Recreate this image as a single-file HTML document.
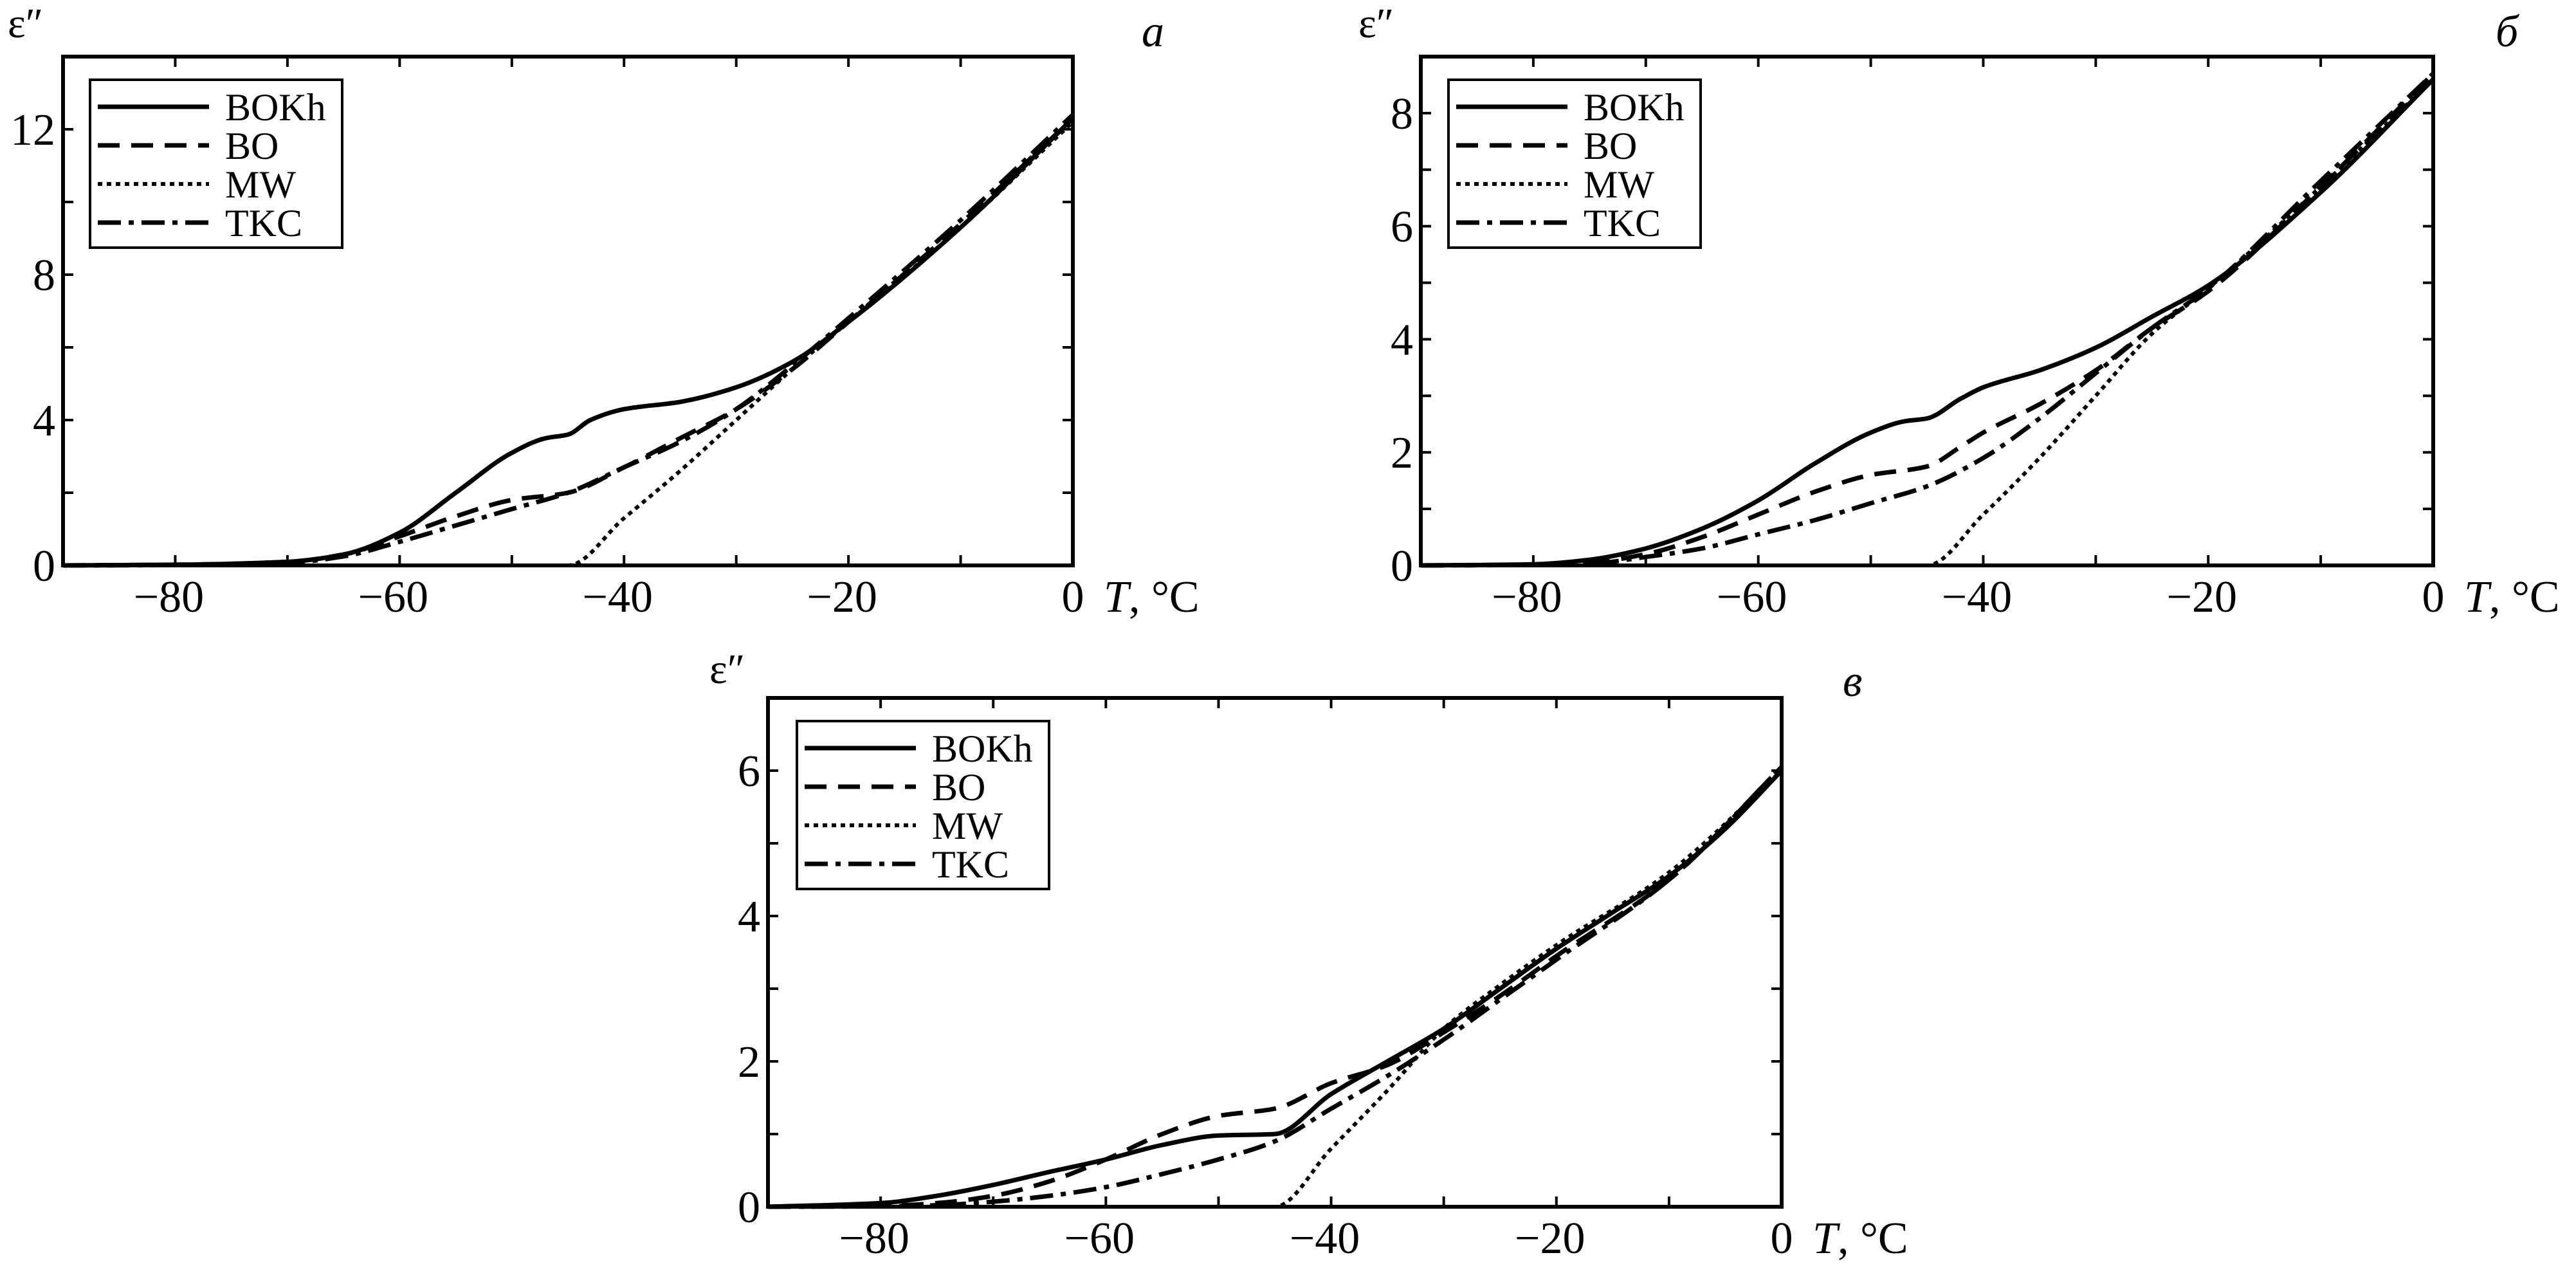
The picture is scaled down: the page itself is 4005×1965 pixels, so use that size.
<!DOCTYPE html>
<html><head><meta charset="utf-8"><style>
html,body{margin:0;padding:0;background:#fff;}
svg{display:block;font-family:"Liberation Serif",serif;}
</style></head><body>
<svg id="fig" width="4005" height="1965" viewBox="0 0 4005 1965" xmlns="http://www.w3.org/2000/svg"></svg>
<script>
// Panel a data
const aT_BOKh=[-90,-80,-70,-65,-60,-55,-50,-47,-45,-43,-40,-35,-30,-25,-20,-10,0];
const aV_BOKh=[0,0.02,0.1,0.3,0.9,2.0,3.1,3.5,3.6,4.0,4.3,4.5,4.9,5.6,6.7,9.3,12.3];
const aT_BO=[-90,-80,-70,-65,-60,-55,-50,-45,-40,-35,-30,-25,-20,-10,0];
const aV_BO=[0,0.02,0.1,0.3,0.8,1.35,1.8,2.0,2.7,3.5,4.3,5.4,6.7,9.4,12.3];
const aT_MW=[-90,-45,-40,-35,-30,-25,-20,-10,0];
const aV_MW=[0,0,1.3,2.6,4.0,5.4,6.7,9.3,12.2];
const aT_TKC=[-90,-80,-70,-65,-60,-55,-50,-45,-40,-35,-30,-25,-20,-10,0];
const aV_TKC=[0,0.01,0.07,0.25,0.65,1.1,1.55,2.0,2.7,3.4,4.3,5.5,6.8,9.5,12.4];
// Panel b data
const bT_BOKh=[-90,-80,-75,-70,-65,-60,-55,-50,-47,-45,-42,-40,-35,-30,-25,-20,-10,0];
const bV_BOKh=[0,0.02,0.1,0.3,0.65,1.15,1.8,2.35,2.55,2.6,2.95,3.15,3.45,3.85,4.4,4.95,6.6,8.6];
const bT_BO=[-90,-80,-75,-70,-65,-60,-55,-50,-45,-42,-40,-35,-30,-25,-20,-10,0];
const bV_BO=[0,0.01,0.05,0.2,0.5,0.9,1.3,1.6,1.75,2.1,2.35,2.85,3.45,4.2,4.85,6.7,8.7];
const bT_MW=[-90,-45,-40,-35,-30,-25,-20,-10,0];
const bV_MW=[0,0,0.9,1.9,3.0,4.1,4.9,6.7,8.6];
const bT_TKC=[-90,-80,-75,-70,-65,-60,-55,-50,-45,-40,-35,-30,-25,-20,-10,0];
const bV_TKC=[0,0.01,0.03,0.15,0.3,0.55,0.8,1.1,1.4,1.9,2.6,3.4,4.2,4.9,6.8,8.7];
// Panel c data
const cT_BOKh=[-90,-80,-75,-70,-65,-60,-55,-50,-45,-40,-35,-30,-25,-20,-15,-10,-5,0];
const cV_BOKh=[0,0.05,0.15,0.3,0.48,0.65,0.85,0.98,1.0,1.55,2.0,2.45,3.0,3.55,4.05,4.55,5.2,6.0];
const cT_BO=[-90,-80,-75,-70,-65,-60,-55,-50,-45,-40,-35,-30,-25,-20,-10,0];
const cV_BO=[0,0.01,0.05,0.15,0.35,0.65,1.0,1.25,1.35,1.7,1.95,2.4,2.9,3.45,4.5,6.05];
const cT_MW=[-90,-45,-40,-35,-30,-25,-20,-10,0];
const cV_MW=[0,0,0.8,1.6,2.45,3.05,3.6,4.6,6.0];
const cT_TKC=[-90,-80,-75,-70,-65,-60,-55,-50,-45,-40,-35,-30,-25,-20,-10,0];
const cV_TKC=[0,0.005,0.02,0.07,0.15,0.27,0.45,0.65,0.9,1.35,1.8,2.3,2.85,3.4,4.5,6.05];
const xTickLabels=[-80,-60,-40,-20,0];
const aYLabels=[0,4,8,12];
const bYLabels=[0,2,4,6,8];
const cYLabels=[0,2,4,6];

const NS="http://www.w3.org/2000/svg";
const svg=document.getElementById('fig');
function mk(tag,attrs,parent){const e=document.createElementNS(NS,tag);for(const k in attrs)e.setAttribute(k,attrs[k]);(parent||svg).appendChild(e);return e;}
const styles={BOKh:"",BO:"34,18",MW:"7,7",TKC:"36,12,8,12"};
// monotone cubic (Fritsch-Carlson) path
function mono(pts){
  const n=pts.length, dx=[], m=[], t=new Array(n);
  for(let i=0;i<n-1;i++){dx[i]=pts[i+1][0]-pts[i][0];m[i]=(pts[i+1][1]-pts[i][1])/dx[i];}
  t[0]=m[0];t[n-1]=m[n-2];
  for(let i=1;i<n-1;i++){
    if(m[i-1]*m[i]<=0)t[i]=0;
    else{const w1=2*dx[i]+dx[i-1],w2=dx[i]+2*dx[i-1];t[i]=(w1+w2)/(w1/m[i-1]+w2/m[i]);}
  }
  let d="M"+pts[0][0].toFixed(1)+","+pts[0][1].toFixed(1);
  for(let i=0;i<n-1;i++){
    const h=dx[i]/3;
    d+=" C"+(pts[i][0]+h).toFixed(1)+","+(pts[i][1]+t[i]*h).toFixed(1)+" "+(pts[i+1][0]-h).toFixed(1)+","+(pts[i+1][1]-t[i+1]*h).toFixed(1)+" "+pts[i+1][0].toFixed(1)+","+pts[i+1][1].toFixed(1);
  }
  return d;
}
function panel(cfg){
  const g=mk('g',{});
  
  
  const L=cfg.L,R=cfg.R,T=cfg.T,B=cfg.B;
  const sx=v=>L+(v+90)/90*(R-L);
  const sy=v=>B-v/cfg.ymax*(B-T);
  cfg.series.forEach(s=>{
    const pts=s.t.map((t,i)=>[sx(t),sy(s.v[i])]);
    const p=mk('path',{d:mono(pts),fill:"none",stroke:"#000","stroke-width":s.name==="MW"?6:7,"stroke-dasharray":styles[s.name]},g);
    
    
  });
  const fr=mk('rect',{x:L,y:T,width:R-L,height:B-T,fill:"none",stroke:"#000","stroke-width":6},g);
  
  
  for(let t=-80;t<=-10;t+=10){
    mk('line',{x1:sx(t),x2:sx(t),y1:B,y2:B-16,stroke:"#000","stroke-width":4},g);
    mk('line',{x1:sx(t),x2:sx(t),y1:T,y2:T+16,stroke:"#000","stroke-width":4},g);
  }
  for(let v=cfg.ystep;v<cfg.ymax;v+=cfg.ystep){
    mk('line',{x1:L,x2:L+16,y1:sy(v),y2:sy(v),stroke:"#000","stroke-width":4},g);
    mk('line',{x1:R,x2:R-16,y1:sy(v),y2:sy(v),stroke:"#000","stroke-width":4},g);
  }
  xTickLabels.forEach(t=>{
    const tx=mk('text',{x:sx(t)-(t<0?10:0),y:B+72,"font-size":70,"text-anchor":"middle"},g);
    tx.textContent=(t<0?"\u2212":"")+Math.abs(t);
    
    
  });
  cfg.ylabels.forEach(v=>{
    const ty=mk('text',{x:L-12,y:sy(v)+24,"font-size":70,"text-anchor":"end"},g);
    ty.textContent=v;
    
    
  });
  const yt=mk('text',{x:cfg.eps[0],y:cfg.eps[1],"font-size":66},g);
  yt.textContent="\u03b5\u2033";
  
  
  const xt=mk('text',{x:R+48,y:B+72,"font-size":70},g);
  xt.innerHTML='<tspan font-style="italic">T</tspan>, °C';
  
  
  const pl=mk('text',{x:cfg.lab[0],y:cfg.lab[1],"font-size":70,"font-style":"italic"},g);
  pl.textContent=cfg.label;
  
  
  const lg=mk('g',{},g);
  
  
  const lx=L+cfg.legDx, ly=T+36, lw=392, lh=261;
  mk('rect',{x:lx,y:ly,width:lw,height:lh,fill:"#fff",stroke:"#000","stroke-width":4},lg);
  ["BOKh","BO","MW","TKC"].forEach((n,i)=>{
    const yy=ly+42+i*60;
    const ln=mk('line',{x1:lx+12,x2:lx+185,y1:yy,y2:yy,stroke:"#000","stroke-width":n==="MW"?6:7,"stroke-dasharray":styles[n]},lg);
    
    
    const tx=mk('text',{x:lx+210,y:yy+21,"font-size":60},lg);
    tx.textContent=n;
    
    
  });
}
panel({id:"a",label:"а",L:98,R:1668,T:88,B:879,ymax:14,ystep:2,ylabels:aYLabels,eps:[12,58],lab:[1775,72],legDx:42,
 series:[{name:"BOKh",t:aT_BOKh,v:aV_BOKh},{name:"BO",t:aT_BO,v:aV_BO},{name:"MW",t:aT_MW,v:aV_MW},{name:"TKC",t:aT_TKC,v:aV_TKC}]});
panel({id:"b",label:"б",L:2209,R:3783,T:88,B:879,ymax:9,ystep:1,ylabels:bYLabels,eps:[2112,58],lab:[3880,72],legDx:43,
 series:[{name:"BOKh",t:bT_BOKh,v:bV_BOKh},{name:"BO",t:bT_BO,v:bV_BO},{name:"MW",t:bT_MW,v:bV_MW},{name:"TKC",t:bT_TKC,v:bV_TKC}]});
panel({id:"c",label:"в",L:1194,R:2770,T:1085,B:1876,ymax:7,ystep:1,ylabels:cYLabels,eps:[1103,1062],lab:[2865,1082],legDx:45,
 series:[{name:"BOKh",t:cT_BOKh,v:cV_BOKh},{name:"BO",t:cT_BO,v:cV_BO},{name:"MW",t:cT_MW,v:cV_MW},{name:"TKC",t:cT_TKC,v:cV_TKC}]});
</script>
</body></html>
